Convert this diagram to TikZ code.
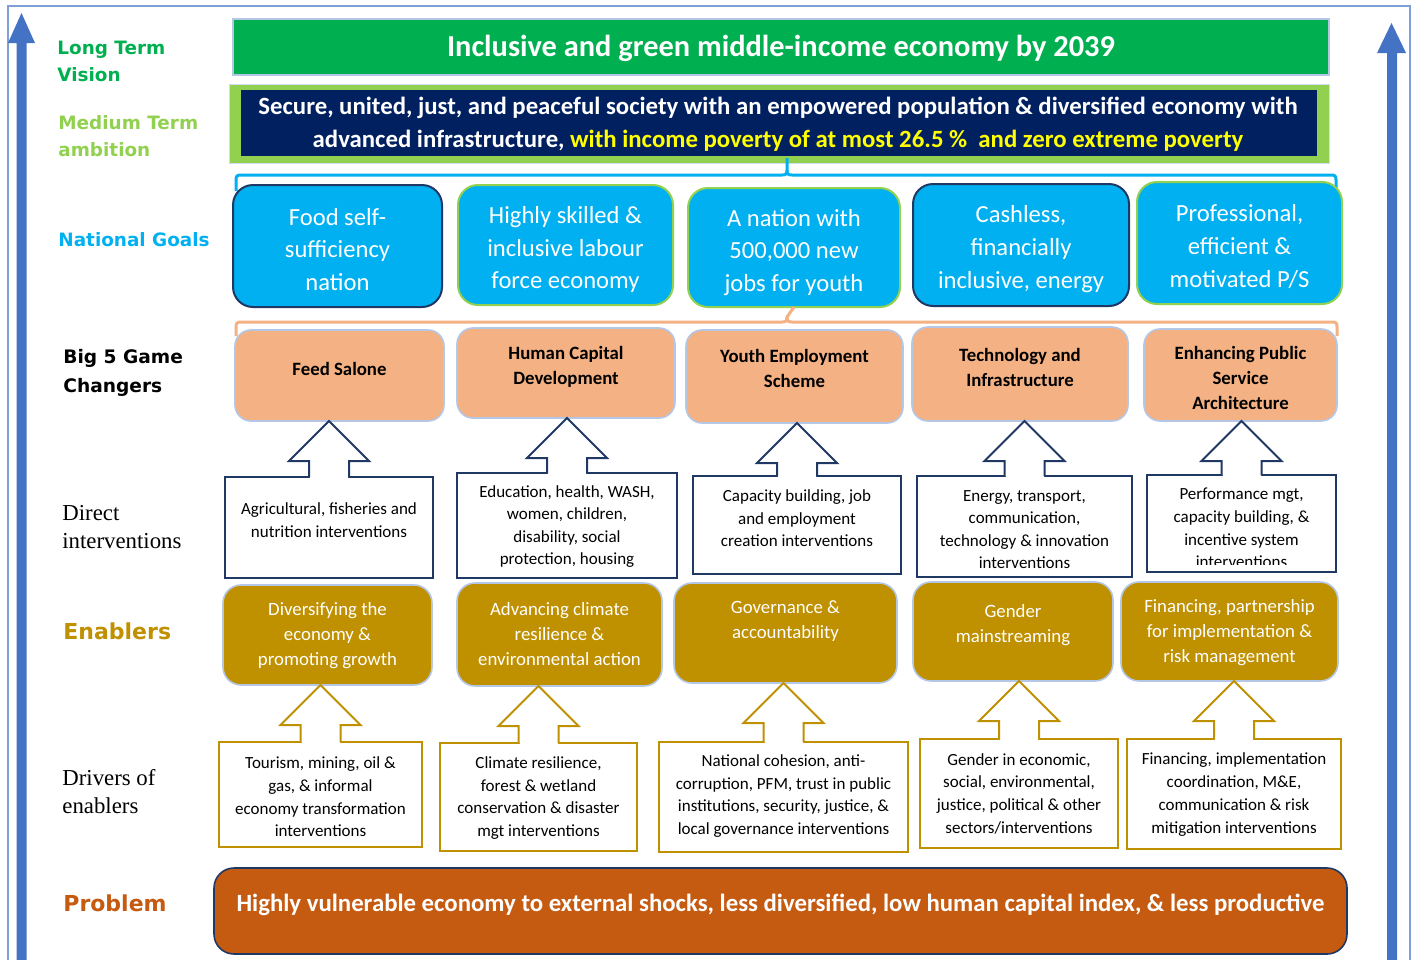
\documentclass[tikz,border=0pt]{standalone}
\usepackage{fontspec}
\setmainfont{Carlito}
\newfontfamily\tagfont{DejaVu Sans}
\newfontfamily\timesfont{Liberation Serif}
\usetikzlibrary{calc}

\definecolor{visiongreen}{HTML}{00B050}
\definecolor{ambitiongreen}{HTML}{92D050}
\definecolor{deepnavy}{HTML}{002060}
\definecolor{linenavy}{HTML}{203864}
\definecolor{brightyellow}{HTML}{FFFF00}
\definecolor{goalcyan}{HTML}{00B0F0}
\definecolor{peach}{HTML}{F4B183}
\definecolor{paleblue}{HTML}{B4C7E7}
\definecolor{ochre}{HTML}{BF9000}
\definecolor{rust}{HTML}{C55A11}
\definecolor{risingblue}{HTML}{4472C4}
\definecolor{frameblue}{HTML}{7F9FD6}

% a box given by its corners (left, top, right, bottom) in pixel units
\newcommand{\panel}[6]{%
  \node[#2, minimum width={(#5-#3)*0.5pt}, minimum height={(#6-#4)*0.5pt}]
    (#1) at ({(#3+#5)/2},{(#4+#6)/2}) {};}

% hollow block arrow rising from the top of #1 to the bottom of #2
\newcommand{\liftarrow}[3]{%
  \fill[white] let \p1=(#1.north) in (\x1-9.5pt,\y1-1.3pt) rectangle (\x1+9.5pt,\y1+1.3pt);
  \draw[#3] let \p1=(#1.north), \p2=(#2.south) in
    (\x1-10pt,\y1) -- (\x1-10pt,\y2-20pt) -- (\x1-20pt,\y2-20pt) -- (\x1,\y2)
    -- (\x1+20pt,\y2-20pt) -- (\x1+10pt,\y2-20pt) -- (\x1+10pt,\y1);}

\begin{document}
\begin{tikzpicture}[x=0.5pt,y=-0.5pt,
  flat/.style={inner sep=0pt, outer sep=0pt},
  visionbox/.style={flat, fill=visiongreen, draw=paleblue, line width=0.6pt},
  ambitionframe/.style={flat, fill=ambitiongreen, draw=paleblue!60, line width=0.5pt},
  ambitioncore/.style={flat, fill=deepnavy},
  goalbox/.style={flat, fill=goalcyan, rounded corners=10pt, line width=1pt},
  changerbox/.style={flat, fill=peach, draw=paleblue, rounded corners=8pt, line width=0.8pt},
  directbox/.style={flat, fill=white, draw=linenavy, line width=1pt},
  enablerbox/.style={flat, fill=ochre, draw=paleblue, rounded corners=9pt, line width=0.8pt},
  driverbox/.style={flat, fill=white, draw=ochre, line width=1pt},
  problembox/.style={flat, fill=rust, draw=linenavy, rounded corners=10pt, line width=0.8pt},
  directarrow/.style={draw=linenavy, fill=white, line width=1pt, line join=miter},
  driverarrow/.style={draw=ochre, fill=white, line width=1pt, line join=miter},
  txt/.style={inner sep=0pt, align=center},
  visiontext/.style={txt, text=white, font=\bfseries\fontsize{15.2}{18}\selectfont},
  ambitiontext/.style={txt, text=white, font=\bfseries\fontsize{12.4}{16.5}\selectfont},
  goaltext/.style={txt, text=white, font=\fontsize{12.3}{16.3}\selectfont},
  changertext/.style={txt, text=black, font=\bfseries\fontsize{9.4}{12.5}\selectfont},
  directtext/.style={txt, text=black, font=\fontsize{8.5}{11.3}\selectfont},
  enablertext/.style={txt, text=white, font=\fontsize{9.4}{12.5}\selectfont},
  drivertext/.style={txt, text=black, font=\fontsize{8.5}{11.35}\selectfont},
  problemtext/.style={txt, text=white, font=\bfseries\fontsize{12.4}{15}\selectfont},
  tier/.style={anchor=west, align=left, inner sep=0pt, font=\tagfont\bfseries\fontsize{9.2}{13.5}\selectfont},
  bigtier/.style={tier, font=\tagfont\bfseries\fontsize{11}{14}\selectfont},
  plaintier/.style={anchor=west, align=left, inner sep=0pt, text=black, font=\timesfont\fontsize{11.4}{14.4}\selectfont},
  brace/.style={line width=1.5pt, line cap=butt, line join=round}
]
\useasboundingbox (0,0) rectangle (1416,959);

% outer frame and the two rising arrows
\draw[frameblue, line width=0.8pt] (8,975) -- (8,6) -- (1410,6) -- (1410,975);
\fill[risingblue] (16.5,975) -- (16.5,43) -- (8,43) -- (21.5,13) -- (35,43) -- (26.5,43) -- (26.5,975) -- cycle;
\fill[risingblue] (1387,975) -- (1387,53) -- (1377,53) -- (1391.5,23) -- (1406,53) -- (1397,53) -- (1397,975) -- cycle;

% tier labels
\node[tier, text=visiongreen] (tvision) at (57,61.5) {Long Term\\Vision};
\node[tier, text=ambitiongreen] (tambition) at (58,136.5) {Medium Term\\ambition};
\node[tier, text=goalcyan] (tgoals) at (58,240) {National Goals};
\node[tier, text=black, font=\tagfont\bfseries\fontsize{9.3}{14.5}\selectfont] (tchangers) at (63,372.5) {Big 5 Game\\Changers};
\node[plaintier] (tdirect) at (62,527) {Direct\\interventions};
\node[bigtier, text=ochre] (tenablers) at (63,631) {Enablers};
\node[plaintier] (tdrivers) at (62,791.5) {Drivers of\\enablers};
\node[bigtier, text=rust] (tproblem) at (63,903) {Problem};

% vision and ambition
\panel{vision}{visionbox}{233}{19}{1329}{75}
\node[visiontext] (visiont) at (781,48) {Inclusive and green middle-income economy by 2039};
\panel{ambition}{ambitionframe}{229}{84}{1329}{163}
\panel{ambitionin}{ambitioncore}{241}{90}{1317}{156}
\node[ambitiontext] (ambitiont) at (778,124.5) {Secure, united, just, and peaceful society with an empowered population \& diversified economy with\\advanced infrastructure, \textcolor{brightyellow}{with income poverty of at most 26.5 \%~ and zero extreme poverty}};

% brace from the ambition down to the national goals
\coordinate (bluetip) at (787,158);
\draw[brace, goalcyan] (236,191) -- (236,180) .. controls (236,176) and (237,175) .. (241,175) -- (782,175)
  .. controls (786,175) and (787,174) .. (787,170) -- (bluetip);
\draw[brace, goalcyan] (787,170) .. controls (787,174) and (788,175) .. (792,175) -- (1331,175)
  .. controls (1335,175) and (1336,176) .. (1336,180) -- (1336,191);

% national goals
\panel{g1}{goalbox, draw=linenavy}{233}{185}{442}{307}
\panel{g2}{goalbox, draw=ambitiongreen}{458}{185}{673}{305}
\panel{g3}{goalbox, draw=ambitiongreen}{688}{188}{900}{307}
\panel{g4}{goalbox, draw=linenavy}{913}{184}{1129}{306}
\panel{g5}{goalbox, draw=ambitiongreen}{1137}{182}{1342}{304}
\node[goaltext] (g1t) at (337.5,249.5) {Food self-\\sufficiency\\nation};
\node[goaltext] (g2t) at (565.5,249.5) {Highly skilled \&\\inclusive labour\\force economy};
\node[goaltext] (g3t) at (794,252.5) {A nation with\\500,000 new\\jobs for youth};
\node[goaltext] (g4t) at (1021,249) {Cashless,\\financially\\inclusive, energy};
\node[goaltext] (g5t) at (1239.5,246.5) {Professional,\\efficient \&\\motivated P/S};

% brace from the goals down to the game changers
\draw[brace, peach] (236,336) -- (236,327) .. controls (236,323) and (237,322) .. (241,322) -- (782,322)
  .. controls (786,322) and (787,321) .. (787,317) -- (g3.south);
\draw[brace, peach] (787,317) .. controls (787,321) and (788,322) .. (792,322) -- (1332,322)
  .. controls (1336,322) and (1337,323) .. (1337,327) -- (1337,336);

% big five game changers
\panel{b1}{changerbox}{235}{330}{444}{421}
\panel{b2}{changerbox}{457}{328}{675}{418}
\panel{b3}{changerbox}{686}{330}{903}{423}
\panel{b4}{changerbox}{912}{327}{1128}{421}
\panel{b5}{changerbox}{1144}{329}{1337}{421}
\node[changertext] (b1t) at (339.5,369) {Feed Salone};
\node[changertext] (b2t) at (566,366.5) {Human Capital\\Development};
\node[changertext] (b3t) at (794.5,368.5) {Youth Employment\\Scheme};
\node[changertext] (b4t) at (1020,367.5) {Technology and\\Infrastructure};
\node[changertext] (b5t) at (1240.5,378) {Enhancing Public\\Service\\Architecture};

% direct interventions
\panel{d1}{directbox}{225}{477}{433}{578}
\panel{d2}{directbox}{457}{473}{677}{578}
\panel{d3}{directbox}{693}{476}{901}{574}
\panel{d4}{directbox}{917}{476}{1132}{577}
\panel{d5}{directbox}{1147}{475}{1336}{572}
\liftarrow{d1}{b1}{directarrow}
\liftarrow{d2}{b2}{directarrow}
\liftarrow{d3}{b3}{directarrow}
\liftarrow{d4}{b4}{directarrow}
\liftarrow{d5}{b5}{directarrow}
\node[directtext] (d1t) at (329,520) {Agricultural, fisheries and\\nutrition interventions};
\node[directtext] (d2t) at (567,526.5) {Education, health, WASH,\\women, children,\\disability, social\\protection, housing};
\node[directtext] (d3t) at (797,518.5) {Capacity building, job\\and employment\\creation interventions};
\node[directtext] (d4t) at (1024.5,529.5) {Energy, transport,\\communication,\\technology \& innovation\\interventions};
\begin{scope}
  \clip (1148,476) rectangle (1335,564);
  \node[directtext] (d5t) at (1241.5,528) {Performance mgt,\\capacity building, \&\\incentive system\\interventions};
\end{scope}

% enablers
\panel{e1}{enablerbox}{223}{585}{432}{685}
\panel{e2}{enablerbox}{457}{583}{662}{686}
\panel{e3}{enablerbox}{674}{583}{897}{683}
\panel{e4}{enablerbox}{913}{582}{1113}{681}
\panel{e5}{enablerbox}{1121}{582}{1338}{681}
\node[enablertext] (e1t) at (327.5,635.5) {Diversifying the\\economy \&\\promoting growth};
\node[enablertext] (e2t) at (559.5,634.5) {Advancing climate\\resilience \&\\environmental action};
\node[enablertext] (e3t) at (785.5,621) {Governance \&\\accountability};
\node[enablertext] (e4t) at (1013,625) {Gender\\mainstreaming};
\node[enablertext] (e5t) at (1229.5,632.5) {Financing, partnership\\for implementation \&\\risk management};

% drivers of enablers
\panel{r1}{driverbox}{219}{742}{422}{847}
\panel{r2}{driverbox}{440}{743}{637}{851}
\panel{r3}{driverbox}{659}{742}{908}{852}
\panel{r4}{driverbox}{920}{739}{1118}{848}
\panel{r5}{driverbox}{1127}{739}{1341}{849}
\liftarrow{r1}{e1}{driverarrow}
\liftarrow{r2}{e2}{driverarrow}
\liftarrow{r3}{e3}{driverarrow}
\liftarrow{r4}{e4}{driverarrow}
\liftarrow{r5}{e5}{driverarrow}
\node[drivertext] (r1t) at (320.5,797) {Tourism, mining, oil \&\\gas, \& informal\\economy transformation\\interventions};
\node[drivertext] (r2t) at (538.5,798) {Climate resilience,\\forest \& wetland\\conservation \& disaster\\mgt interventions};
\node[drivertext] (r3t) at (783.5,796) {National cohesion, anti-\\corruption, PFM, trust in public\\institutions, security, justice, \&\\local governance interventions};
\node[drivertext] (r4t) at (1019,793.5) {Gender in economic,\\social, environmental,\\justice, political \& other\\sectors/interventions};
\node[drivertext] (r5t) at (1234,794.5) {Financing, implementation\\coordination, M\&E,\\communication \& risk\\mitigation interventions};

% problem
\panel{problem}{problembox}{214}{868}{1347}{954}
\node[problemtext] (problemt) at (780.5,905) {Highly vulnerable economy to external shocks, less diversified, low human capital index, \& less productive};
\end{tikzpicture}
\end{document}
